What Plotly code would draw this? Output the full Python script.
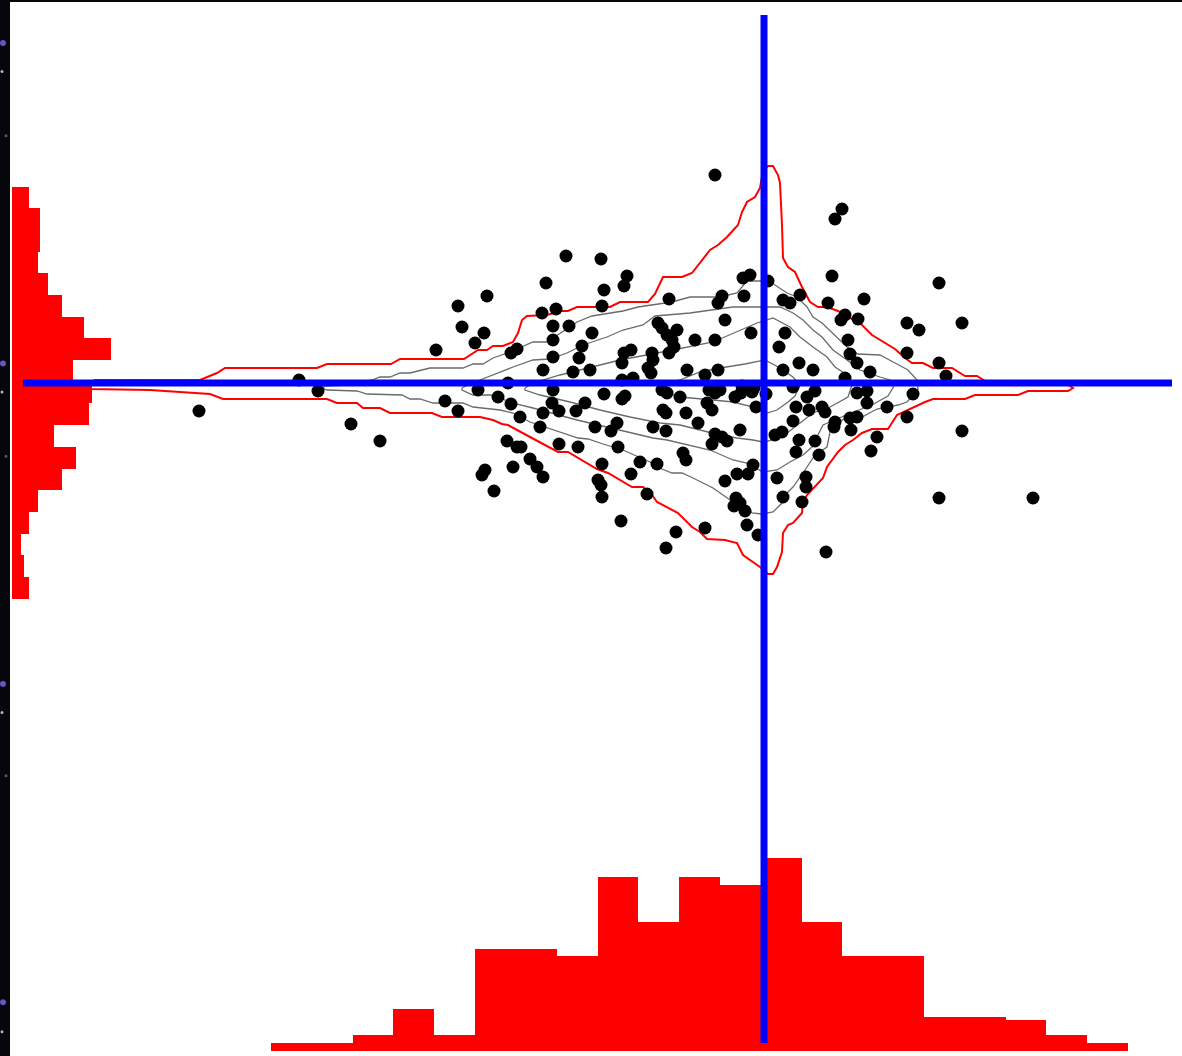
import plotly.graph_objects as go

# ---------------- data ----------------
pts_x = [-0.49, 0.78, 0.71, -1.98, -1.63, -1.37, -1.40, -2.18, -1.60, -0.14, -0.21, 0.04, 0.68, 1.75,
         -2.77, -3.06, -0.95, -0.42, -0.46, -0.20, 0.19, 0.26, 0.36, 0.64, 1.00, -2.22, -2.08, -1.62,
         0.81, 0.77, 0.94, 1.43, 1.55, 1.98, -3.02, -2.80, -2.11, -1.95, -1.72, -1.06, -1.02, -0.87,
         -0.97, -0.92, -0.39, -0.13, 0.21, -2.89, -2.11, -1.82, -0.90, -0.69, -0.49, 0.15, 0.84, -3.28,
         -2.53, -2.47, -2.11, -1.85, -1.40, -1.33, -1.12, -0.95, -1.11, -1.16, -1.42, -2.21, -1.91, -1.74,
         -0.77, -0.59, -0.46, 0.19, 0.35, 0.49, 0.86, 0.93, 1.43, 1.75, 1.82, 0.81, 1.06, -4.65,
         -1.42, -1.31, -1.13, -4.46, -2.86, -2.56, -2.11, -1.60, -1.42, -1.39, -1.02, -0.97, -0.84, -0.55,
         -0.44, -0.49, -0.23, -0.29, -0.10, -0.22, 0.29, 0.43, 0.51, 0.93, 1.03, 1.03, 1.49, -5.65,
         -4.13, -3.84, -3.19, -3.06, -2.66, -2.53, -2.44, -2.21, -2.24, -2.12, -2.05, -1.88, -1.79, -1.69,
         -1.53, -1.47, -1.11, -0.98, -1.01, -0.98, -0.78, -0.66, -0.57, -0.52, -0.08, -0.49, -0.42, -0.37,
         -0.24, -0.52, 0.11, 0.18, 0.32, 0.45, 0.58, 0.61, 0.29, 0.71, 0.70, 0.86, 0.93, 0.87,
         0.35, 0.51, 0.32, 0.55, 1.13, 1.07, 1.23, 1.43, 1.98, -2.57, -2.47, -2.43, -2.05, -1.86,
         -1.46, -2.34, -2.27, -2.21, -2.51, -2.82, -2.79, -2.70, -1.62, -1.24, -1.07, -0.81, -0.78, -1.33,
         -1.66, -1.63, -1.62, -1.43, -1.17, -0.88, -0.98, -0.59, -0.39, -0.27, -0.16, -0.11, -0.28, -0.30,
         -0.19, -0.17, -0.06, 0.13, 0.19, 0.42, 0.42, 0.38, 0.62, 1.75, 2.69, -0.24, -0.12, 0.02]
pts_y = [2.08, 1.74, 1.64, 1.27, 1.24, 1.07, 0.97, 1.00, 0.93, 1.08, 1.05, 1.02, 1.07, 1.00,
         0.87, 0.77, 0.84, 0.87, 0.80, 0.87, 0.83, 0.80, 0.88, 0.80, 0.84, 0.70, 0.74, 0.77,
         0.68, 0.63, 0.64, 0.60, 0.53, 0.60, 0.56, 0.50, 0.57, 0.57, 0.50, 0.60, 0.55, 0.53,
         0.48, 0.43, 0.63, 0.50, 0.50, 0.40, 0.43, 0.37, 0.36, 0.43, 0.43, 0.36, 0.43, 0.33,
         0.30, 0.34, 0.26, 0.25, 0.30, 0.33, 0.30, 0.30, 0.23, 0.15, 0.20, 0.13, 0.11, 0.13,
         0.13, 0.08, 0.13, 0.13, 0.20, 0.13, 0.29, 0.20, 0.30, 0.20, 0.07, 0.05, 0.11, 0.03,
         0.03, 0.05, 0.10, -0.08, -0.07, 0.00, -0.07, -0.11, -0.16, -0.13, -0.07, -0.10, -0.14, -0.07,
         -0.07, -0.10, -0.10, -0.14, -0.05, -0.03, -0.04, -0.14, -0.08, -0.10, -0.08, -0.20, -0.11, -0.28,
         -0.41, -0.58, -0.18, -0.28, -0.14, -0.21, -0.34, -0.30, -0.44, -0.20, -0.28, -0.28, -0.20, -0.44,
         -0.48, -0.40, -0.44, -0.48, -0.27, -0.30, -0.30, -0.40, -0.20, -0.27, -0.24, -0.51, -0.54, -0.58,
         -0.47, -0.61, -0.52, -0.49, -0.24, -0.27, -0.24, -0.29, -0.38, -0.39, -0.44, -0.35, -0.34, -0.47,
         -0.57, -0.58, -0.69, -0.72, -0.54, -0.68, -0.24, -0.34, -0.48, -0.58, -0.64, -0.64, -0.61, -0.64,
         -0.64, -0.76, -0.84, -0.94, -0.84, -0.92, -0.87, -1.08, -0.81, -0.79, -0.81, -0.70, -0.77, -0.91,
         -0.97, -1.02, -1.14, -1.38, -1.11, -1.49, -1.65, -1.45, -0.98, -0.91, -0.91, -0.82, -1.15, -1.23,
         -1.28, -1.42, -1.52, -0.95, -1.14, -0.94, -1.04, -1.19, -1.69, -1.15, -1.15, -1.20, -0.09, -0.11]

# x marginal histogram (bottom): bin centres and heights
xhist_centers = [-4.726, -4.318, -3.910, -3.502, -3.093, -2.685, -2.277, -1.869, -1.461, -1.053, -0.645,
                 -0.237, 0.171, 0.579, 0.988, 1.396, 1.804, 2.212, 2.620, 3.028, 3.436]
xhist_counts = [1, 1, 2, 5.25, 2, 12.75, 12.75, 11.9, 21.75, 16.1, 21.75,
                20.75, 24.1, 16.1, 11.9, 11.9, 4.25, 4.25, 3.9, 2, 1]
xhist_width = 0.4081

# y marginal histogram (left): bin centres and lengths
yhist_centers = [1.855, 1.638, 1.421, 1.204, 0.988, 0.771, 0.554, 0.337, 0.121, -0.096,
                 -0.313, -0.530, -0.747, -0.963, -1.180, -1.397, -1.614, -1.831, -2.047]
yhist_counts = [4.25, 7, 7, 6.5, 9, 12.5, 18, 24.75, 15.25, 20, 19.25, 10.5, 16, 12.5, 6.5, 4.25, 2.25, 3, 4.25]
yhist_width = 0.2168

# density contours (outer red level, inner grey levels)
red_x = [-6.78, -6.69, -5.64, -5.47, -5.39, -4.47, -4.37, -3.73, -3.64, -3.00, -2.86, -2.77, -2.71, -2.61,
         -2.51, -2.46, -2.42, -2.37, -2.17, -2.04, -1.96, -1.87, -1.54, -1.44, -1.16, -1.09, -1.01, -0.82,
         -0.72, -0.54, -0.46, -0.37, -0.26, -0.22, -0.17, -0.09, -0.04, -0.01, 0.04, 0.09, 0.14, 0.16,
         0.18, 0.19, 0.24, 0.31, 0.38, 0.46, 0.54, 0.63, 0.74, 0.98, 1.08, 1.16, 1.31, 1.41, 1.48, 1.59,
         1.69, 1.88, 2.01, 2.13, 2.21, 2.74, 2.84, 3.04, 3.09,
         3.04, 2.64, 2.54, 2.11, 2.01, 1.69, 1.61, 1.33, 1.24, 1.08, 0.98, 0.89, 0.81, 0.74, 0.63, 0.59,
         0.43, 0.39, 0.38, 0.29, 0.24, 0.19, 0.18, 0.13, 0.09, 0.04, -0.04, -0.11, -0.21, -0.27, -0.39,
         -0.57, -0.64, -0.72, -0.86, -1.07, -1.12, -1.21, -1.32, -1.56, -1.67, -1.96, -2.06, -2.34, -2.56,
         -2.62, -2.71, -2.84, -3.22, -3.32, -3.74, -3.84, -4.01, -4.07, -4.27, -4.37, -5.41, -5.54, -6.14,
         -6.74, -6.78]
red_y = [-0.01, 0.03, 0.03, 0.10, 0.15, 0.15, 0.19, 0.19, 0.24, 0.24, 0.33, 0.33, 0.37, 0.37,
         0.41, 0.50, 0.63, 0.67, 0.68, 0.72, 0.72, 0.76, 0.76, 0.81, 0.81, 0.89, 1.06, 1.06,
         1.10, 1.33, 1.38, 1.46, 1.58, 1.71, 1.81, 1.86, 1.95, 2.12, 2.17, 2.17, 2.08, 2.00,
         1.58, 1.25, 1.16, 1.11, 0.96, 0.81, 0.76, 0.76, 0.72, 0.58, 0.48, 0.43, 0.34, 0.25, 0.20, 0.20,
         0.15, 0.15, 0.07, 0.07, 0.02, 0.02, -0.02, -0.02, -0.05,
         -0.08, -0.08, -0.12, -0.12, -0.16, -0.16, -0.19, -0.32, -0.46, -0.46, -0.50, -0.57, -0.62, -0.69, -0.84, -0.95,
         -1.12, -1.19, -1.30, -1.40, -1.42, -1.50, -1.69, -1.84, -1.91, -1.91, -1.84, -1.79, -1.72, -1.60, -1.57,
         -1.56, -1.49, -1.44, -1.30, -1.19, -1.12, -1.04, -1.04, -0.90, -0.86, -0.69, -0.69, -0.54, -0.42,
         -0.41, -0.37, -0.34, -0.34, -0.30, -0.30, -0.25, -0.25, -0.20, -0.20, -0.16, -0.16, -0.11, -0.07,
         -0.06, -0.01]

g1_x = [-4.42, -4.38, -4.16, -4.04, -3.92, -3.84, -3.74, -3.64, -3.54, -3.34, -3.01, -2.91, -2.81, -2.71,
        -2.54, -2.31, -2.17, -1.87, -1.72, -1.41, -1.26, -0.92, -0.74, -0.44, -0.27, -0.17, -0.01, 0.08,
        0.23, 0.33, 0.43, 0.49, 0.58, 0.73, 0.83, 0.94, 1.16, 1.31, 1.44, 1.53, 1.54, 1.43, 1.34, 1.13,
        0.98, 0.83, 0.71, 0.66, 0.63, 0.54, 0.49, 0.41, 0.34, 0.29, 0.23, 0.18, 0.09, -0.02, -0.12, -0.17,
        -0.31, -0.41, -0.51, -0.71, -0.82, -0.92, -1.07, -1.14, -1.27, -1.41, -1.61, -1.76, -1.86, -2.01,
        -2.12, -2.34, -2.51, -2.64, -2.91, -3.01, -3.31, -3.44, -3.54, -3.62, -3.97, -4.07, -4.37, -4.42]
g1_y = [-0.05, -0.03, -0.02, 0.01, 0.03, 0.06, 0.06, 0.10, 0.10, 0.15, 0.15, 0.19, 0.19, 0.25,
        0.31, 0.41, 0.41, 0.61, 0.67, 0.72, 0.76, 0.81, 0.86, 0.86, 0.90, 1.02, 1.02, 1.00,
        0.90, 0.86, 0.76, 0.66, 0.60, 0.46, 0.36, 0.29, 0.28, 0.20, 0.13, 0.03, -0.07, -0.19, -0.22, -0.26,
        -0.34, -0.34, -0.42, -0.49, -0.64, -0.70, -0.75, -0.87, -0.97, -1.04, -1.10, -1.20, -1.29, -1.31, -1.30, -1.24,
        -1.19, -1.12, -1.05, -0.95, -0.90, -0.90, -0.84, -0.79, -0.73, -0.67, -0.61, -0.56, -0.55, -0.50,
        -0.47, -0.39, -0.30, -0.27, -0.24, -0.20, -0.20, -0.16, -0.16, -0.12, -0.11, -0.08, -0.07, -0.05]

g2_x = [-3.02, -2.94, -2.84, -2.64, -2.51, -2.31, -2.14, -1.97, -1.81, -1.57, -1.41, -1.21, -1.09, -0.74,
        -0.31, 0.16, 0.29, 0.39, 0.49, 0.58, 0.69, 0.83, 0.96, 1.16, 1.26, 1.30, 1.24, 1.06, 0.89, 0.73,
        0.59, 0.54, 0.49, 0.39, 0.26, 0.13, -0.01, -0.17, -0.31, -0.54, -0.77, -0.97, -1.11, -1.37, -1.51,
        -1.74, -1.87, -2.31, -2.52, -2.64, -2.74, -2.91, -3.02, -3.02]
g2_y = [-0.05, -0.01, 0.03, 0.11, 0.16, 0.23, 0.24, 0.30, 0.38, 0.46, 0.53, 0.58, 0.67, 0.70,
        0.76, 0.76, 0.70, 0.63, 0.53, 0.46, 0.33, 0.23, 0.13, 0.06, 0.03, -0.03, -0.13, -0.23, -0.29, -0.36,
        -0.42, -0.52, -0.63, -0.72, -0.79, -0.87, -0.89, -0.80, -0.77, -0.67, -0.62, -0.57, -0.55, -0.49, -0.45,
        -0.40, -0.37, -0.25, -0.20, -0.15, -0.12, -0.12, -0.07, -0.05]

g3_x = [-2.39, -2.31, -2.04, -1.84, -1.44, -0.91, -0.51, -0.07, 0.09, 0.26, 0.36, 0.49, 0.63, 0.71, 0.83,
        0.88, 0.84, 0.66, 0.49, 0.36, 0.23, 0.09, -0.01, -0.11, -0.27, -0.44, -0.64, -0.84, -1.04, -1.34,
        -1.64, -1.94, -2.24, -2.39, -2.39]
g3_y = [-0.05, 0.00, 0.08, 0.13, 0.23, 0.33, 0.41, 0.60, 0.65, 0.56, 0.46, 0.36, 0.26, 0.16, 0.08,
        -0.02, -0.14, -0.24, -0.30, -0.40, -0.50, -0.57, -0.59, -0.57, -0.55, -0.52, -0.47, -0.42, -0.40, -0.34,
        -0.27, -0.19, -0.12, -0.07, -0.05]

g4_x = [-1.04, -0.97, -0.84, -0.64, -0.44, -0.19, 0.01, 0.16, 0.29, 0.36, 0.31, 0.24, 0.13, 0.03, -0.07,
        -0.31, -0.51, -0.84, -0.99, -1.04]
g4_y = [-0.05, 0.00, 0.03, 0.11, 0.15, 0.19, 0.23, 0.15, 0.06, -0.02, -0.13, -0.19, -0.27, -0.30, -0.25,
        -0.19, -0.17, -0.14, -0.09, -0.05]

# reference cross (centre of the distribution) and its extent
cross_x = 0.0
cross_y = 0.0
hline_x = [-7.41, 4.08]
vline_y = [-6.60, 3.68]

# ---------------- figure ----------------
RED = "#ff0000"
fig = go.Figure()

fig.add_trace(go.Bar(x=xhist_centers, y=xhist_counts, width=xhist_width,
                     marker=dict(color=RED, line=dict(width=0)),
                     xaxis="x", yaxis="y2", hoverinfo="skip"))
fig.add_trace(go.Bar(y=yhist_centers, x=yhist_counts, width=yhist_width, orientation="h",
                     marker=dict(color=RED, line=dict(width=0)),
                     xaxis="x2", yaxis="y", hoverinfo="skip"))

for gx, gy in [(g1_x, g1_y), (g2_x, g2_y), (g3_x, g3_y), (g4_x, g4_y)]:
    fig.add_trace(go.Scatter(x=gx, y=gy, mode="lines",
                             line=dict(color="#6b6b6b", width=1.3),
                             xaxis="x", yaxis="y", hoverinfo="skip"))
fig.add_trace(go.Scatter(x=red_x, y=red_y, mode="lines",
                         line=dict(color=RED, width=2),
                         xaxis="x", yaxis="y", hoverinfo="skip"))

fig.add_trace(go.Scatter(x=pts_x, y=pts_y, mode="markers",
                         marker=dict(color="black", size=13, line=dict(width=0)),
                         xaxis="x", yaxis="y"))

# white plotting surface (drawn beneath every subplot so none hides another)
fig.add_shape(type="rect", xref="paper", yref="paper", x0=0, x1=1, y0=0, y1=1,
              fillcolor="white", line=dict(width=0), layer="below")

# blue cross lines
fig.add_shape(type="line", xref="x", yref="y", x0=hline_x[0], x1=hline_x[1], y0=cross_y, y1=cross_y,
              line=dict(color="#0000ff", width=7), layer="above")
fig.add_shape(type="line", xref="x", yref="y", x0=cross_x, x1=cross_x, y0=vline_y[0], y1=vline_y[1],
              line=dict(color="#0000ff", width=7), layer="above")

# starry strip decoration in the left margin
stars = [(-0.006, 0.961, "purple"), (-0.0068, 0.934, "white"), (-0.0034, 0.873, "dim"),
         (-0.006, 0.657, "purple"), (-0.0068, 0.630, "white"), (-0.0034, 0.569, "dim"),
         (-0.006, 0.353, "purple"), (-0.0068, 0.326, "white"), (-0.0034, 0.266, "dim"),
         (-0.006, 0.051, "purple"), (-0.0068, 0.023, "white")]
for sx, sy, kind in stars:
    if kind == "purple":
        col, r = "rgba(140,110,255,0.75)", 3
    elif kind == "white":
        col, r = "rgba(220,220,235,0.8)", 1.5
    else:
        col, r = "rgba(170,170,200,0.5)", 1.5
    fig.add_shape(type="circle", xref="paper", yref="paper", xsizemode="pixel", ysizemode="pixel",
                  xanchor=sx, yanchor=sy, x0=-r, x1=r, y0=-r, y1=r,
                  fillcolor=col, line=dict(width=0), layer="above")

hidden = dict(visible=False, showgrid=False, zeroline=False, fixedrange=True)
fig.update_layout(
    width=1182, height=1056, autosize=False,
    margin=dict(l=10, r=0, t=2, b=0, pad=0),
    paper_bgcolor="#05070d", plot_bgcolor="rgba(0,0,0,0)",
    showlegend=False,
    xaxis=dict(domain=[0, 1], range=[-7.54, 4.18], anchor="y", **hidden),
    yaxis=dict(domain=[0, 1], range=[-6.73, 3.81], anchor="x", **hidden),
    xaxis2=dict(domain=[0, 0.2], range=[-0.5, 58.1], anchor="y", **hidden),
    yaxis2=dict(domain=[0, 0.2], range=[-0.625, 25.725], anchor="x", **hidden),
    bargap=0,
)

fig.write_html("out.html")
